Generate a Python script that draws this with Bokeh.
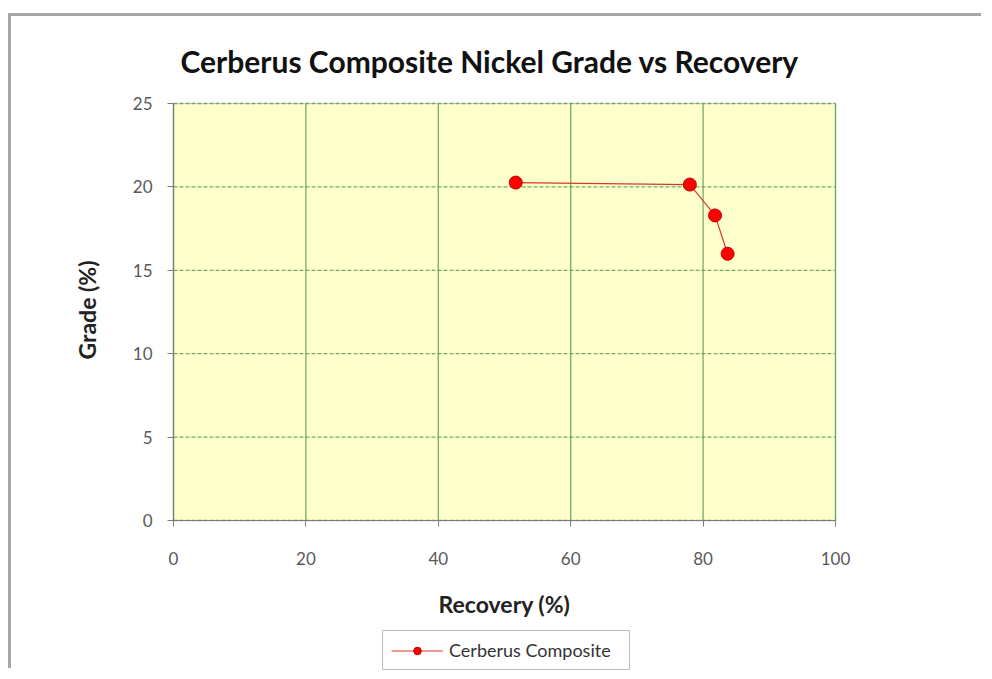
from bokeh.plotting import figure
from bokeh.models import Legend, LegendItem, Range1d, FixedTicker, BoxAnnotation, Title
from bokeh.embed import file_html
from bokeh.resources import INLINE

# ---- data ----
series_name = "Cerberus Composite"
recovery = [51.7, 78.0, 81.8, 83.7]
grade = [20.26, 20.14, 18.29, 15.99]
x_ticks = [0, 20, 40, 60, 80, 100]
y_ticks = [0, 5, 10, 15, 20, 25]
x_min, x_max = 0, 100
y_min, y_max = 0, 25

FONT = "Lato"

# ---- layout (pixels) ----
W, H = 973, 655
CHART_W, CHART_H = 662, 417          # size of the yellow plotting area
PAD_L, PAD_R, PAD_T = 48, 25, 12     # frame extends past the chart for the tick labels
B_LEFT, B_RIGHT, B_TOP = 162 - PAD_L, 149 - PAD_R, 87 - PAD_T
FRAME_H = H - B_TOP                  # frame extends down to host the legend
x_lo = x_min - (x_max - x_min) * PAD_L / CHART_W
x_hi = x_max + (x_max - x_min) * PAD_R / CHART_W
y_hi = y_max + (y_max - y_min) * PAD_T / CHART_H
y_lo = y_hi - (y_max - y_min) * FRAME_H / CHART_H

p = figure(width=W, height=H, output_backend="svg", toolbar_location=None,
           x_range=Range1d(x_lo, x_hi), y_range=Range1d(y_lo, y_hi),
           min_border_left=B_LEFT, min_border_right=B_RIGHT, min_border_top=B_TOP,
           min_border_bottom=0,
           title="Cerberus Composite Nickel Grade vs Recovery")
p.styles = {"border-left": "3px solid #a6a6a6", "border-top": "3px solid #a6a6a6",
            "margin-top": "13px", "margin-left": "8px"}

p.title.align = "left"
p.title.offset = 7 + PAD_L
p.title.standoff = 26
p.title.text_font = FONT
p.title.text_font_size = "30px"
p.title.text_font_style = "bold"
p.title.text_color = "#111111"

p.background_fill_color = "white"
p.border_fill_color = "white"
p.outline_line_color = None

chart_bg = BoxAnnotation(left=x_min, right=x_max, bottom=y_min, top=y_max,
                         fill_color="#ffffcc", fill_alpha=1,
                         line_color="#8f9f80", line_width=1.2, level="image")
p.add_layout(chart_bg)

# grid lines, limited to the chart area
p.xgrid.visible = False
p.ygrid.visible = False
p.segment(x0=x_ticks, y0=[y_min] * len(x_ticks), x1=x_ticks, y1=[y_max] * len(x_ticks),
          line_color="#4f9a4f", line_alpha=0.8, line_width=1.3)
p.segment(x0=[x_min] * len(y_ticks), y0=y_ticks, x1=[x_max] * len(y_ticks), y1=y_ticks,
          line_color="#4f9a4f", line_alpha=0.8, line_width=1.3, line_dash="4 2")

p.xaxis.ticker = FixedTicker(ticks=x_ticks)
p.yaxis.ticker = FixedTicker(ticks=y_ticks)
p.xaxis.fixed_location = y_min
p.yaxis.fixed_location = x_min
p.xaxis.bounds = (x_min, x_max)
p.yaxis.bounds = (y_min, y_max)
for ax in (p.xaxis[0], p.yaxis[0]):
    ax.axis_line_color = "#7a7a7a"
    ax.axis_line_width = 1.2
    ax.major_tick_line_color = "#7a7a7a"
    ax.major_tick_out = 6
    ax.major_tick_in = 0
    ax.minor_tick_out = 0
    ax.minor_tick_in = 0
    ax.major_label_text_font = FONT
    ax.major_label_text_font_size = "17px"
    ax.major_label_text_color = "#595959"
    ax.axis_label_text_font = FONT
    ax.axis_label_text_font_size = "23px"
    ax.axis_label_text_font_style = "bold"
    ax.axis_label_text_color = "#222222"

p.xaxis.axis_label = "Recovery (%)"
p.xaxis.major_label_standoff = 25
p.xaxis.axis_label_standoff = 22
p.yaxis.major_label_standoff = 15

ylab = Title(text="Grade (%)", align="right", offset=157 + PAD_T, standoff=50,
             text_font=FONT, text_font_size="23px", text_font_style="bold",
             text_color="#222222")
p.add_layout(ylab, "left")

ln = p.line(recovery, grade, line_color="#d8382a", line_width=1.2)
sc = p.scatter(recovery, grade, size=13, fill_color="#ff0000",
               line_color="#c00000", line_width=1)

legend = Legend(items=[LegendItem(label=series_name, renderers=[ln, sc])],
                location=(209 + PAD_L, 1), orientation="horizontal",
                border_line_color="#808080", border_line_width=1.5,
                padding=8, glyph_width=52, glyph_height=19, label_standoff=6,
                label_width=172,
                label_text_font=FONT, label_text_font_size="18px",
                label_text_color="#333333", margin=0)
p.add_layout(legend, "center")

open("out.html", "w").write(file_html(p, INLINE))
